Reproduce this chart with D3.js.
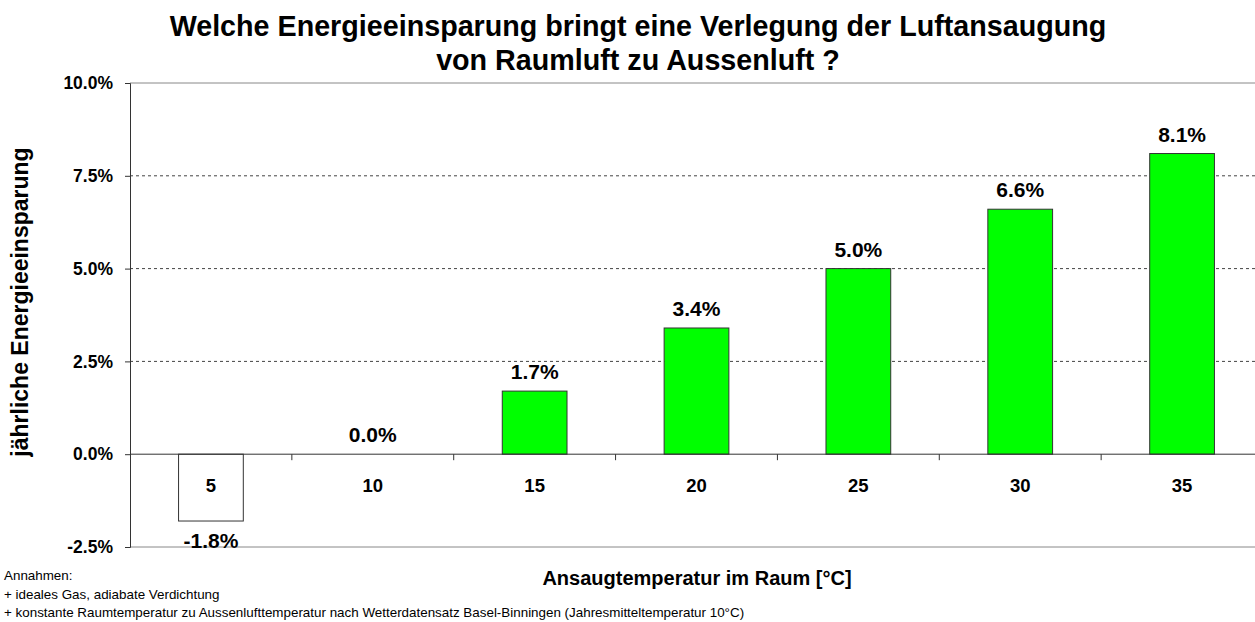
<!DOCTYPE html>
<meta charset="utf-8">
<style>
  body { margin: 0; background: #fff; }
  text { font-family: Arial, "Liberation Sans", sans-serif; fill: #000; }
</style>
<script src="https://d3js.org/d3.v7.min.js"></script>
<div id="chart"></div>
<script>
// data
var categories = ["5", "10", "15", "20", "25", "30", "35"];
var savings = [-1.8, 0.0, 1.7, 3.4, 5.0, 6.6, 8.1];
var yTicks = [-2.5, 0, 2.5, 5, 7.5, 10];
var titleLines = ["Welche Energieeinsparung bringt eine Verlegung der Luftansaugung",
                  "von Raumluft zu Aussenluft ?"];
var notes = ["Annahmen:",
             "+ ideales Gas, adiabate Verdichtung",
             "+ konstante Raumtemperatur zu Aussenlufttemperatur nach Wetterdatensatz Basel-Binningen (Jahresmitteltemperatur 10°C)"];

var W = 1255, H = 622;
var plotLeft = 130, plotRight = 1263, plotTop = 83, plotBottom = 547;

var svg = d3.select("#chart").append("svg")
    .attr("width", W).attr("height", H);

var x = d3.scaleBand()
    .domain(categories)
    .range([plotLeft, plotRight])
    .paddingInner(0.6)
    .paddingOuter(0.3);

var y = d3.scaleLinear()
    .domain([-2.5, 10])
    .range([plotBottom, plotTop]);

// dashed gridlines
svg.append("g").selectAll("line")
    .data(yTicks.filter(function(d) { return d > 0 && d < 10; }))
    .enter().append("line")
    .attr("x1", plotLeft).attr("x2", plotRight)
    .attr("y1", function(d) { return y(d); })
    .attr("y2", function(d) { return y(d); })
    .attr("stroke", "#444")
    .attr("stroke-dasharray", "3,3");

// top and bottom frame lines
svg.append("line").attr("x1", plotLeft).attr("x2", plotRight)
    .attr("y1", y(10)).attr("y2", y(10)).attr("stroke", "#888");
svg.append("line").attr("x1", plotLeft).attr("x2", plotRight)
    .attr("y1", y(-2.5)).attr("y2", y(-2.5)).attr("stroke", "#888");

// bars
svg.append("g").selectAll("rect")
    .data(savings)
    .enter().append("rect")
    .attr("x", function(d, i) { return x(categories[i]); })
    .attr("width", x.bandwidth())
    .attr("y", function(d) { return y(Math.max(0, d)); })
    .attr("height", function(d) { return Math.abs(y(d) - y(0)); })
    .attr("fill", function(d) { return d < 0 ? "#fff" : "#00ff00"; })
    .attr("stroke", "#333")
    .attr("stroke-width", 1);

// y axis
var yAxis = svg.append("g")
    .attr("transform", "translate(" + plotLeft + ",0)")
    .call(d3.axisLeft(y).tickValues(yTicks).tickSize(5).tickPadding(12)
        .tickFormat(function(d) { return d.toFixed(1) + "%"; }));
yAxis.select(".domain").attr("stroke", "#333");
yAxis.selectAll(".tick line").attr("stroke", "#333");
yAxis.selectAll("text")
    .style("font-size", "17.5px").style("font-weight", "bold")
    .style("font-family", "Arial, 'Liberation Sans', sans-serif");

// zero line with category ticks between bars
svg.append("line").attr("x1", plotLeft).attr("x2", plotRight)
    .attr("y1", y(0)).attr("y2", y(0)).attr("stroke", "#333");
svg.append("g").selectAll("line")
    .data(categories.slice(1))
    .enter().append("line")
    .attr("x1", function(d) { return x(d) - x.step() * x.paddingInner() / 2; })
    .attr("x2", function(d) { return x(d) - x.step() * x.paddingInner() / 2; })
    .attr("y1", y(0)).attr("y2", y(0) + 6)
    .attr("stroke", "#333");

// category labels
svg.append("g").selectAll("text")
    .data(categories)
    .enter().append("text")
    .attr("x", function(d) { return x(d) + x.bandwidth() / 2; })
    .attr("y", y(0) + 38)
    .attr("text-anchor", "middle")
    .style("font-size", "18.5px").style("font-weight", "bold")
    .text(function(d) { return d; });

// value labels
svg.append("g").selectAll("text")
    .data(savings)
    .enter().append("text")
    .attr("x", function(d, i) { return x(categories[i]) + x.bandwidth() / 2; })
    .attr("y", function(d) { return d < 0 ? y(d) + 27 : y(d) - 12; })
    .attr("text-anchor", "middle")
    .style("font-size", "21px").style("font-weight", "bold")
    .text(function(d) { return d.toFixed(1) + "%"; });

// title
svg.append("g").selectAll("text")
    .data(titleLines)
    .enter().append("text")
    .attr("x", 638)
    .attr("y", function(d, i) { return 36 + i * 34; })
    .attr("text-anchor", "middle")
    .style("font-size", "28.7px").style("font-weight", "bold")
    .text(function(d) { return d; });

// axis titles
svg.append("text")
    .attr("transform", "translate(28,302) rotate(-90)")
    .attr("text-anchor", "middle")
    .style("font-size", "23px").style("font-weight", "bold")
    .text("jährliche Energieeinsparung");

svg.append("text")
    .attr("x", 697).attr("y", 585)
    .attr("text-anchor", "middle")
    .style("font-size", "20px").style("font-weight", "bold")
    .text("Ansaugtemperatur im Raum [°C]");

// notes
svg.append("g").selectAll("text")
    .data(notes)
    .enter().append("text")
    .attr("x", 4)
    .attr("y", function(d, i) { return 580 + i * 18.5; })
    .style("font-size", "13.4px")
    .text(function(d) { return d; });
</script>
